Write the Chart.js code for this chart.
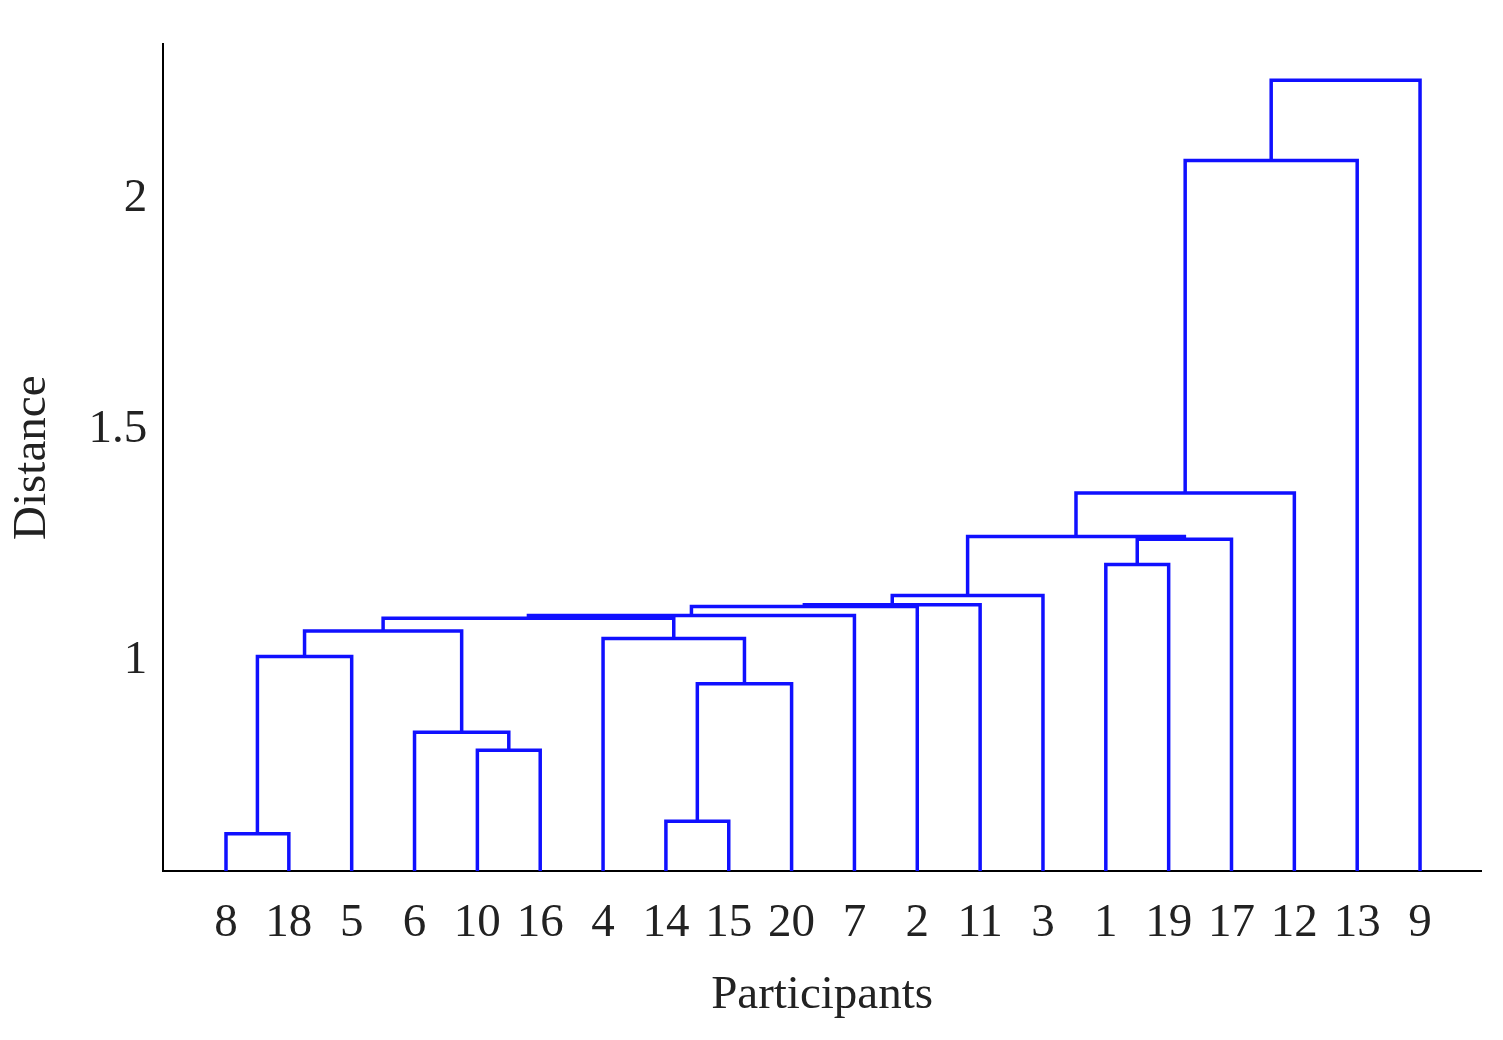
<!DOCTYPE html>
<html>
<head>
<meta charset="utf-8">
<script src="https://cdn.jsdelivr.net/npm/chart.js@4/dist/chart.umd.min.js"></script>
<style>
  html, body { margin: 0; padding: 0; background: #fff; }
  canvas { display: block; }
</style>
</head>
<body>
<canvas id="chart" width="1503" height="1040"></canvas>
<script>
// leaf labels in dendrogram order (left to right)
const leafLabels = ['8', '18', '5', '6', '10', '16', '4', '14', '15', '20',
                    '7', '2', '11', '3', '1', '19', '17', '12', '13', '9'];

// merges: [left node, right node, distance]; nodes 0..19 are leaves, 20+ are earlier merges
const mergeLeft  = [0, 20, 4, 3, 21, 7, 25, 6, 24, 28, 29, 30, 31, 14, 33, 32, 35, 36, 37];
const mergeRight = [1, 2, 5, 22, 23, 8, 9, 26, 27, 10, 11, 12, 13, 15, 16, 34, 17, 18, 19];
const mergeDist  = [0.624, 1.008, 0.805, 0.844, 1.063, 0.651, 0.949, 1.047, 1.091, 1.097,
                    1.116, 1.120, 1.140, 1.207, 1.262, 1.268, 1.362, 2.082, 2.256];

const yTicks = [1, 1.5, 2];
const Y_MIN = 0.543, Y_MAX = 2.334;

// ─── Build segments ──────────────────────────────────────────────────────────
const nodeX = leafLabels.map((_, i) => i + 1);
const nodeY = leafLabels.map(() => Y_MIN);

const datasets = mergeDist.map((h, i) => {
  const a = mergeLeft[i], b = mergeRight[i];
  nodeX.push((nodeX[a] + nodeX[b]) / 2);
  nodeY.push(h);
  return {
    data: [
      { x: nodeX[a], y: nodeY[a] },
      { x: nodeX[a], y: h },
      { x: nodeX[b], y: h },
      { x: nodeX[b], y: nodeY[b] },
    ],
    borderColor: '#1010ff',
    borderWidth: 3.5,
    pointRadius: 0,
    showLine: true,
    fill: false,
    tension: 0,
  };
});

const FONT = { family: '"Liberation Serif", "DejaVu Serif", serif', size: 47 };

new Chart(document.getElementById('chart'), {
  type: 'scatter',
  data: { datasets },
  options: {
    responsive: false,
    animation: false,
    layout: { padding: { top: 32, right: 22, bottom: 16, left: 0 } },
    plugins: { legend: { display: false }, tooltip: { enabled: false } },
    scales: {
      x: {
        type: 'linear', min: 0, max: 20.97,
        afterBuildTicks: s => { s.ticks = leafLabels.map((_, i) => ({ value: i + 1 })); },
        grid: { display: false, drawTicks: false },
        border: { color: '#000', width: 2 },
        ticks: {
          color: '#222', font: FONT, padding: 24, autoSkip: false, maxRotation: 0,
          callback: (v) => leafLabels[v - 1] ?? '',
        },
        title: { display: true, text: 'Participants', color: '#222', font: FONT, padding: { top: -8, bottom: 0 } },
      },
      y: {
        type: 'linear', min: Y_MIN, max: Y_MAX,
        afterBuildTicks: s => { s.ticks = yTicks.map(v => ({ value: v })); },
        grid: { display: false, drawTicks: false },
        border: { color: '#000', width: 2 },
        ticks: { color: '#222', font: FONT, padding: 16, callback: v => String(v) },
        title: { display: true, text: 'Distance', color: '#222', font: FONT, padding: { bottom: 12 } },
      },
    },
  },
});
</script>
</body>
</html>
